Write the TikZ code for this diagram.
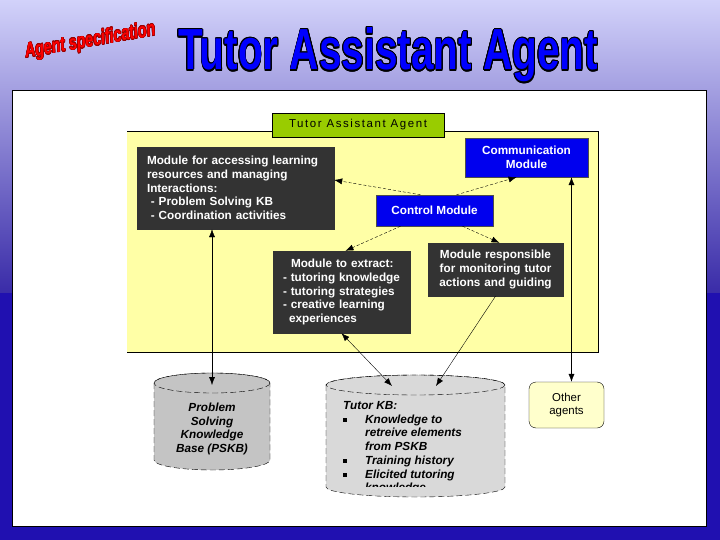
\documentclass[tikz,border=0pt]{standalone}
\usepackage{fontspec}
\setmainfont{Liberation Sans}
\usepackage{graphicx}
\usepackage[copies]{contour}
\usetikzlibrary{arrows.meta,calc}

\definecolor{slidetop}{HTML}{D2D2FA}
\definecolor{slidemid}{HTML}{3A2CA8}
\definecolor{slideblue}{HTML}{2010B0}
\definecolor{titleblue}{HTML}{0000FF}
\definecolor{specred}{HTML}{FF0000}
\definecolor{paneyellow}{HTML}{FFFFA6}
\definecolor{labelgreen}{HTML}{99CC00}
\definecolor{moddark}{HTML}{333333}
\definecolor{modblue}{HTML}{0000EE}
\definecolor{kbgray}{HTML}{C4C4C4}
\definecolor{kblight}{HTML}{D9D9D9}
\definecolor{agentfill}{HTML}{FFFFCC}

\tikzset{
  boxfont/.style={font=\fontsize{11.8}{13.8}\selectfont\bfseries},
  darkmod/.style={boxfont, draw=black!80, fill=moddark, text=white, inner ysep=0pt, inner xsep=10bp},
  bluemod/.style={boxfont, draw=black!70, fill=modblue, text=white, align=center, inner sep=0pt},
  labelbox/.style={draw=black, fill=labelgreen, inner sep=0pt, font=\fontsize{11.5}{13}\selectfont\addfontfeature{LetterSpace=14}},
  kbline/.style={draw=black, dash pattern=on 6bp off 3bp},
  kbtext/.style={font=\fontsize{11.8}{13.8}\selectfont\bfseries\itshape, inner sep=0pt},
  ctrllink/.style={->, dash pattern=on 3bp off 2bp},
  kblink/.style={<->},
}

\begin{document}
\begin{tikzpicture}[x=1bp,y=-1bp, >={Latex[length=8bp,width=6bp]}]
\useasboundingbox (0,0) rectangle (720,540);
% slide background
\fill[slideblue] (0,0) rectangle (720,540);
\shade[top color=slidetop, bottom color=slidemid] (0,0) rectangle (720,292);
\filldraw[fill=white, draw=black, line width=1bp] (12,91) rectangle (706,526);

% slide headings
\node[rotate=10, anchor=base west, inner sep=0pt] (spec) at (26,58)
  {\contourlength{0.3bp}\resizebox{132bp}{15bp}{\bfseries\itshape\color{specred}\contour{red!60!black}{Agent specification}}};
\node[anchor=base west, inner sep=0pt] (title) at (178,70)
  {\contourlength{1bp}\resizebox{420bp}{42bp}{\fontsize{50}{50}\selectfont\bfseries\color{titleblue}\contour{black}{Tutor Assistant Agent}}};

% agent panel
\fill[paneyellow] (127,131) rectangle (598,352);
\draw[line width=0.8bp] (127,131) -- (598,131) -- (598,352) -- (127,352);
\node[labelbox, minimum width=172bp, minimum height=24bp] (label) at (358,125) {Tutor Assistant Agent};

\node[darkmod, text width=177bp, minimum height=82bp, align=left] (access) at (235.5,188)
  {Module for accessing learning\\ resources and managing\\ Interactions:\\ \ - Problem Solving KB\\ \ - Coordination activities};
\node[bluemod, minimum width=123bp, minimum height=39bp] (comm) at (526.5,157.5) {Communication\\ Module};
\node[bluemod, minimum width=117bp, minimum height=31bp] (control) at (434.5,210.5) {Control Module};
\node[darkmod, text width=117bp, minimum height=82bp, align=left] (extract) at (341.5,292)
  {\hspace*{8bp}Module to extract:\\ - tutoring knowledge\\ - tutoring strategies\\ - creative learning\\ \hspace*{6bp}experiences};
\node[darkmod, inner xsep=0pt, text width=135bp, minimum height=53bp, align=center] (monitor) at (495.5,269.5)
  {Module responsible\\ for monitoring tutor\\ actions and guiding};

% knowledge bases
\filldraw[kbline, fill=kbgray] (154,383) -- (154,460) arc[start angle=180, end angle=0, x radius=58, y radius=10]
  -- (270,383) arc[start angle=0, end angle=-180, x radius=58, y radius=10] -- cycle;
\draw[kbline] (212,383) ellipse[x radius=58, y radius=10];
\coordinate (pskb) at (212,385);
\node[kbtext, align=center] (pskbtext) at (212,429) {Problem\\ Solving\\ Knowledge\\ Base (PSKB)};

\filldraw[kbline, fill=kblight] (326,385) -- (326,487) arc[start angle=180, end angle=0, x radius=89.5, y radius=10]
  -- (505,385) arc[start angle=0, end angle=-180, x radius=89.5, y radius=10] -- cycle;
\draw[kbline] (415.5,385) ellipse[x radius=89.5, y radius=10];
\coordinate (tutorkbl) at (392,386);
\coordinate (tutorkbr) at (436,386);
\begin{scope}
\clip (320,380) rectangle (510,486);
\node[kbtext, align=left, anchor=north west] (kbtext) at (343,401)
  {Tutor KB:\\
   \makebox[22bp][l]{\raisebox{1.5bp}{\rule{3.5bp}{3.5bp}}}Knowledge to\\
   \hspace*{22bp}retreive elements\\
   \hspace*{22bp}from PSKB\\
   \makebox[22bp][l]{\raisebox{1.5bp}{\rule{3.5bp}{3.5bp}}}Training history\\
   \makebox[22bp][l]{\raisebox{1.5bp}{\rule{3.5bp}{3.5bp}}}Elicited tutoring\\
   \hspace*{22bp}knowledge};
\end{scope}
\node[draw, rounded corners=7bp, fill=agentfill, minimum width=75bp, minimum height=46bp, align=center,
  font=\fontsize{11.5}{13.8}\selectfont] (other) at (566.5,405) {Other\\ agents};

% connectors
\draw[ctrllink] ([xshift=-14bp]control.north) -- ([yshift=8bp]access.east);
\draw[ctrllink] ([xshift=22bp]control.north) -- ([xshift=-10bp]comm.south);
\draw[ctrllink] ([xshift=-34bp]control.south) -- ([xshift=4bp]extract.north);
\draw[ctrllink] ([xshift=28bp]control.south) -- ([xshift=4bp]monitor.north);
\draw[kblink] (pskb |- access.south) -- (pskb);
\draw[kblink] (extract.south) -- (tutorkbl);
\draw[->] (monitor.south) -- (tutorkbr);
\draw[kblink] ([xshift=5bp]other.north |- comm.south) -- ([xshift=5bp]other.north);
\end{tikzpicture}
\end{document}
